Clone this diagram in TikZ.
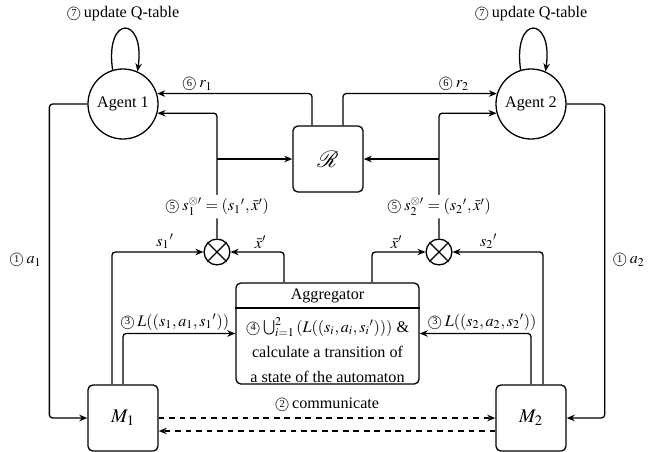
\documentclass[tikz,border=0pt]{standalone}
\usepackage{mathptmx}
\usepackage{fontspec}
\setmainfont{Liberation Serif}
\usetikzlibrary{arrows.meta, calc}
\newcommand{\circnum}[1]{{\fontsize{9}{10}\selectfont\ooalign{\hfil\raisebox{0.25ex}{\fontsize{6.5}{7}\selectfont #1}\hfil\crcr$\bigcirc$}}\,}

\begin{document}
\begin{tikzpicture}[
    x=0.62pt, y=-0.62pt,
    agent/.style={circle, draw, thick, minimum size=43.4pt, inner sep=0pt},
    block/.style={rectangle, draw, thick, rounded corners=3pt,
                  minimum width=43.4pt, minimum height=40.9pt},
    mixer/.style={circle, draw, thick, minimum size=16pt, inner sep=0pt},
    arrow/.style={-{Stealth[length=5pt, width=4pt]}, thick, rounded corners=2pt},
    tag/.style={inner sep=1.5pt}
  ]
    \useasboundingbox (0,0) rectangle (655,452);
    % agents and reward
    \node[agent] (agent1) at (123,104) {Agent 1};
    \node[agent] (agent2) at (531,104) {Agent 2};
    \node[block] (rew) at (328,159) {\Large $\mathcal{R}$};
    % automata and products
    \node[block] (m1) at (123,418) {\large $M_1$};
    \node[block] (m2) at (531,418) {\large $M_2$};
    \node[mixer] (mix1) at (217,252) {};
    \node[mixer] (mix2) at (439,252) {};
    \draw[thick] (mix1.north west) -- (mix1.south east) (mix1.north east) -- (mix1.south west);
    \draw[thick] (mix2.north west) -- (mix2.south east) (mix2.north east) -- (mix2.south west);
    % aggregator
    \node[block, minimum width=113.5pt, minimum height=62.6pt] (agg) at (327.5,333.5) {};
    \node (aggtitle) at (327.5,295.5) {Aggregator};
    \node[align=center, font=\fontsize{10}{15.5}\selectfont] (aggbody) at (327.5,350)
      {\circnum{4}$\bigcup_{i=1}^{2}\,(L((s_i,a_i,{s_i}')))$ \&\\
       calculate a transition of\\a state of the automaton};
    \coordinate (aggcut) at (0,308);
    \draw[thick] (agg.west |- aggcut) -- (agg.east |- aggcut);

    % Q-table updates
    \draw[arrow] (agent1.107) .. controls +(-8,-56) and +(8,-56) .. (agent1.66);
    \draw[arrow] (agent2.107) .. controls +(-8,-56) and +(8,-56) .. (agent2.66);
    \node[tag] (upd1) at (123,14) {\circnum{7}update Q-table};
    \node[tag] (upd2) at (531,14) {\circnum{7}update Q-table};

    % actions
    \draw[arrow] (agent1.west) -- ++(-38,0) |- node[tag, left=3pt, pos=0.25] {\circnum{1}$a_1$} (m1.west);
    \draw[arrow] (agent2.east) -- ++(38,0) |- node[tag, right=3pt, pos=0.25] {\circnum{1}$a_2$} (m2.east);

    % rewards
    \draw[arrow] ($(rew.north)+(-16,0)$) |- node[tag, above, pos=0.87] {\circnum{6}$r_1$} (agent1.17);
    \draw[arrow] ($(rew.north)+(15,0)$) |- node[tag, above, pos=0.86] {\circnum{6}$r_2$} (agent2.163);

    % product states
    \draw[arrow] (mix1.north) |- node[tag, fill=white, pos=0.127]
      {\circnum{5}$s_1^{\otimes\prime} = ({s_1}', \bar{x}')$} (agent1.-15);
    \draw[arrow] (mix2.north) |- node[tag, fill=white, pos=0.127]
      {\circnum{5}$s_2^{\otimes\prime} = ({s_2}', \bar{x}')$} (agent2.195);
    \draw[arrow] (mix1.north |- rew.west) -- (rew.west);
    \draw[arrow] (mix2.north |- rew.east) -- (rew.east);

    % inputs of the products
    \draw[arrow] ($(m1.north)+(-11,0)$) |- node[tag, above, pos=0.79] {${s_1}'$} (mix1.west);
    \draw[arrow] ($(m2.north)+(12,0)$) |- node[tag, above, pos=0.8] {${s_2}'$} (mix2.east);
    \draw[arrow] ($(agg.north)+(-43.5,0)$) |- node[tag, above, pos=0.72] {$\bar{x}'$} (mix1.east);
    \draw[arrow] ($(agg.north)+(44.5,0)$) |- node[tag, above, pos=0.73] {$\bar{x}'$} (mix2.west);

    % labelled transitions
    \draw[arrow] (m1.north) |- node[tag, above, pos=0.73] {\circnum{3}$L((s_1,a_1,{s_1}'))$} (agg.west);
    \draw[arrow] (m2.north) |- node[tag, above, pos=0.72] {\circnum{3}$L((s_2,a_2,{s_2}'))$} (agg.east);

    % communication
    \draw[arrow, dash pattern=on 3.5pt off 3pt] (m1.east) -- node[tag, above=2pt] {\circnum{2}communicate} (m2.west);
    \draw[arrow, dash pattern=on 3.5pt off 3pt] ($(m2.west)+(0,13)$) -- ($(m1.east)+(0,13)$);
  \end{tikzpicture}
\end{document}
